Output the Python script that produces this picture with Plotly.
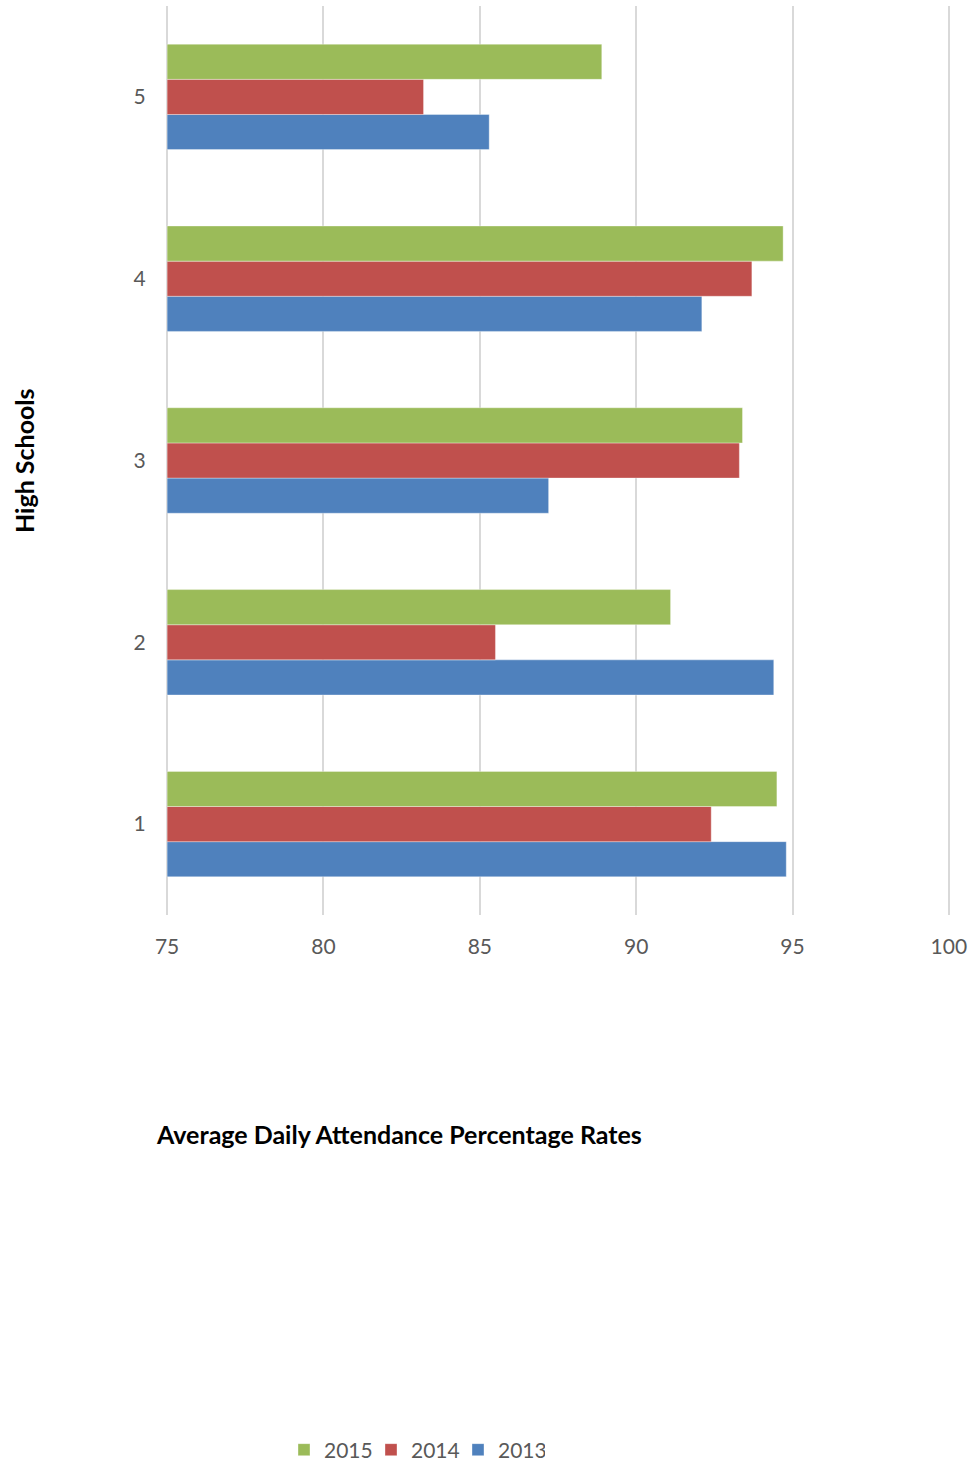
import plotly.graph_objects as go

# Average daily attendance (%) per high school and year
schools = ["1", "2", "3", "4", "5"]
rate_2013 = [94.8, 94.4, 87.2, 92.1, 85.3]
rate_2014 = [92.4, 85.5, 93.3, 93.7, 83.2]
rate_2015 = [94.5, 91.1, 93.4, 94.7, 88.9]

x_ticks = [75, 80, 85, 90, 95, 100]
AXIS_MIN = x_ticks[0]

series = [
    ("2013", rate_2013, "#4F81BD"),
    ("2014", rate_2014, "#C0504D"),
    ("2015", rate_2015, "#9BBB59"),
]

FONT = "Lato, 'Open Sans', sans-serif"
GREY = "#595959"
FIG_W, FIG_H = 977, 1464

# plot-area geometry in pixels, used to place paper-anchored text
PLOT_L, PLOT_W = 164, 788
PLOT_BOTTOM, PLOT_H = 915, 909


def px_x(p):
    return (p - PLOT_L) / PLOT_W


def px_y(p):
    return (PLOT_BOTTOM - p) / PLOT_H


fig = go.Figure()
for name, vals, color in series:
    # bars grow from the axis minimum, ending at each value
    fig.add_trace(go.Bar(
        y=schools, x=[v - AXIS_MIN for v in vals], base=AXIS_MIN,
        name=name, orientation="h",
        customdata=vals, hovertemplate="%{customdata}<extra>" + name + "</extra>",
        marker=dict(color=color, line=dict(color="rgba(255,255,255,0.6)", width=0.6)),
    ))

fig.update_layout(
    width=FIG_W, height=FIG_H,
    margin=dict(l=PLOT_L, r=FIG_W - PLOT_L - PLOT_W, t=6, b=FIG_H - PLOT_BOTTOM),
    paper_bgcolor="white", plot_bgcolor="white",
    barmode="group", bargap=0.42, bargroupgap=0,
    font=dict(family=FONT, color=GREY, size=21),
    showlegend=True,
    legend=dict(
        orientation="h", traceorder="reversed",
        xref="container", yref="container",
        x=284 / FIG_W, xanchor="left",
        y=(FIG_H - 1450) / FIG_H, yanchor="middle",
        font=dict(size=21, color=GREY, family=FONT),
        itemwidth=30, entrywidth=42, entrywidthmode="pixels",
    ),
    xaxis=dict(
        range=[74.9, 100.1], tickvals=x_ticks, ticktext=[str(t) for t in x_ticks],
        showgrid=True, gridcolor="#D9D9D9", gridwidth=1.5,
        zeroline=False, showline=False,
        ticks="outside", ticklen=13, tickcolor="rgba(0,0,0,0)",
        tickfont=dict(size=21, color=GREY),
        fixedrange=True,
    ),
    yaxis=dict(
        categoryorder="array", categoryarray=schools,
        showgrid=False, zeroline=False, showline=False,
        ticks="outside", ticklen=13, tickcolor="rgba(0,0,0,0)",
        tickfont=dict(size=21, color=GREY),
        fixedrange=True,
    ),
    annotations=[
        dict(text="<b>Average Daily Attendance Percentage Rates</b>",
             xref="paper", yref="paper",
             x=px_x(154), xanchor="left",
             y=px_y(1134), yanchor="middle",
             showarrow=False, font=dict(size=25, color="black", family=FONT)),
        dict(text="<b>High Schools</b>",
             xref="paper", yref="paper",
             x=px_x(24), xanchor="center",
             y=px_y(461), yanchor="middle", textangle=-90,
             showarrow=False, font=dict(size=25, color="black", family=FONT)),
    ],
)

fig.write_html("out.html")
